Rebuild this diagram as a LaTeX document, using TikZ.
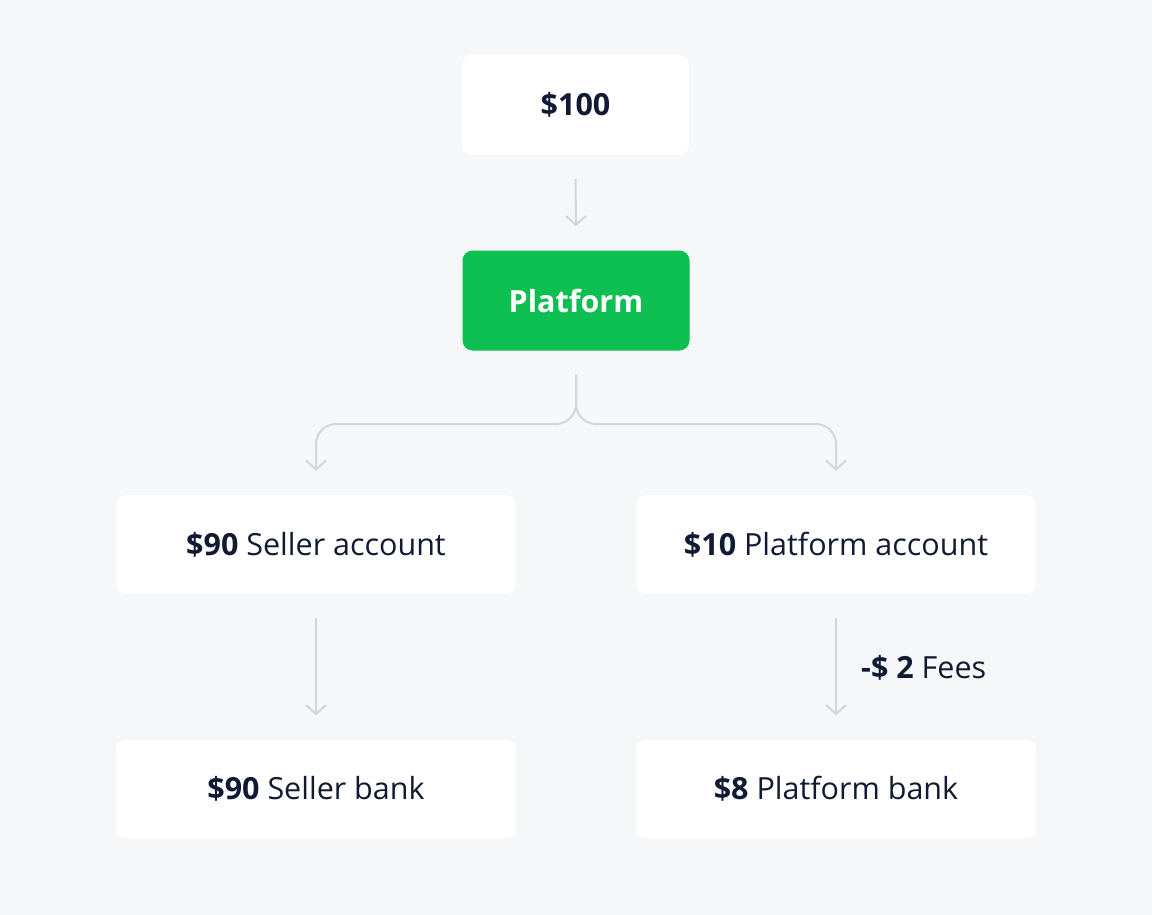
\documentclass[tikz,border=0pt]{standalone}
\usepackage{fontspec}
\setmainfont{Open Sans}
\usetikzlibrary{arrows.meta}
\definecolor{bg}{HTML}{F6F7F9}
\definecolor{txt}{HTML}{111A33}
\definecolor{grn}{HTML}{0DBF50}
\definecolor{ln}{HTML}{D2D5DA}
\tikzset{
  card/.style={rectangle, rounded corners=10pt, fill=white, minimum width=400pt, minimum height=99pt, text=txt, font=\fontsize{30.5}{34}\selectfont, inner sep=0pt},
  smallcard/.style={card, minimum width=227pt, minimum height=100pt},
  greencard/.style={smallcard, fill=grn, text=white},
  conn/.style={draw=ln, line width=2pt, shorten <=24pt, shorten >=24pt, -{Straight Barb[length=9pt,width=20pt,line width=2pt]}},
  split/.style={conn, rounded corners=20pt},
  lbl/.style={text=txt, font=\fontsize{30.5}{34}\selectfont, anchor=west, inner sep=0pt}
}
\begin{document}
\begin{tikzpicture}[x=1pt,y=-1pt]
\fill[bg] (0,0) rectangle (1152,915);
\useasboundingbox (0,0) rectangle (1152,915);
\node[smallcard] (top) at (575.5,105) {\textbf{\$100}};
\node[greencard] (plat) at (576,300.5) {\textbf{Platform}};
\node[card] (sa) at (316,544.5) {\textbf{\$90} Seller account};
\node[card] (pa) at (836,544.5) {\textbf{\$10} Platform account};
\node[card] (sb) at (316,789) {\textbf{\$90} Seller bank};
\node[card] (pb) at (836,789) {\textbf{\$8} Platform bank};
\draw[conn] (top) -- (plat);
\draw[split] (plat.south) |- (sa.north |- 0,424) -- (sa.north);
\draw[split] (plat.south) |- (pa.north |- 0,424) -- (pa.north);
\draw[conn] (sa) -- (sb);
\draw[conn] (pa) -- (pb);
\node[lbl] (fees) at (861,668) {\textbf{-\$ 2} Fees};
\end{tikzpicture}
\end{document}
